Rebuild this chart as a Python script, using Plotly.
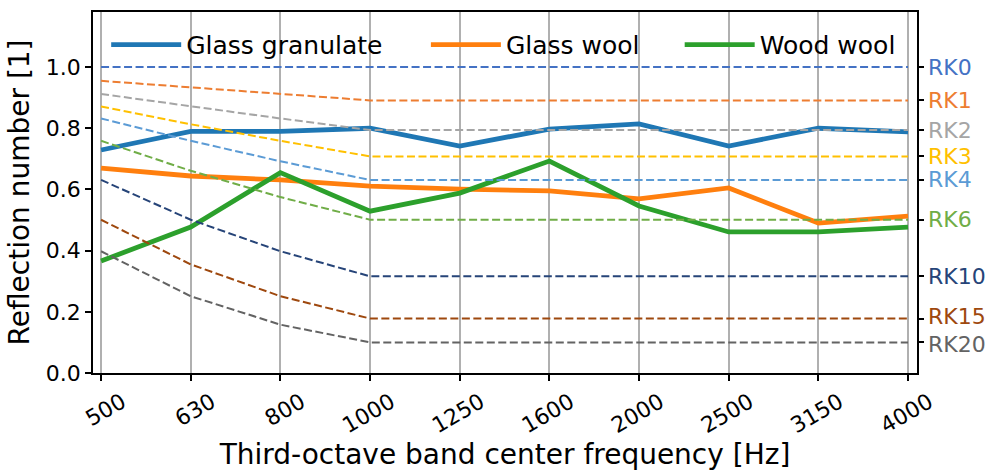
import plotly.graph_objects as go

freqs = ["500", "630", "800", "1000", "1250", "1600", "2000", "2500", "3150", "4000"]

glass_granulate = [0.729, 0.790, 0.790, 0.800, 0.742, 0.797, 0.814, 0.742, 0.800, 0.788]
glass_wool = [0.670, 0.644, 0.631, 0.611, 0.601, 0.595, 0.569, 0.605, 0.490, 0.513]
wood_wool = [0.366, 0.477, 0.655, 0.529, 0.588, 0.693, 0.546, 0.461, 0.461, 0.477]

rk0 = [1.000, 1.000, 1.000, 1.000, 1.000, 1.000, 1.000, 1.000, 1.000, 1.000]
rk1 = [0.955, 0.933, 0.912, 0.891, 0.891, 0.891, 0.891, 0.891, 0.891, 0.891]
rk2 = [0.912, 0.871, 0.832, 0.794, 0.794, 0.794, 0.794, 0.794, 0.794, 0.794]
rk3 = [0.871, 0.813, 0.759, 0.708, 0.708, 0.708, 0.708, 0.708, 0.708, 0.708]
rk4 = [0.832, 0.759, 0.692, 0.631, 0.631, 0.631, 0.631, 0.631, 0.631, 0.631]
rk6 = [0.759, 0.661, 0.575, 0.501, 0.501, 0.501, 0.501, 0.501, 0.501, 0.501]
rk10 = [0.631, 0.501, 0.398, 0.316, 0.316, 0.316, 0.316, 0.316, 0.316, 0.316]
rk15 = [0.501, 0.355, 0.251, 0.178, 0.178, 0.178, 0.178, 0.178, 0.178, 0.178]
rk20 = [0.398, 0.251, 0.158, 0.100, 0.100, 0.100, 0.100, 0.100, 0.100, 0.100]

rk_labels = ["RK0", "RK1", "RK2", "RK3", "RK4", "RK6", "RK10", "RK15", "RK20"]
rk_series = [rk0, rk1, rk2, rk3, rk4, rk6, rk10, rk15, rk20]
rk_colors = ["#4472C4", "#ED7D31", "#A5A5A5", "#FFC000", "#5B9BD5",
             "#70AD47", "#264478", "#9E480E", "#636363"]
rk_label_nudge = [0, 0, 0, 0, 0, 0, 0, 2, -2]

series_names = ["Glass granulate", "Glass wool", "Wood wool"]
series_values = [glass_granulate, glass_wool, wood_wool]
series_colors = ["#1f77b4", "#ff7f0e", "#2ca02c"]
legend_ids = ["legend", "legend2", "legend3"]
legend_x = [0.016, 0.404, 0.712]

FONT = "DejaVu Sans"
YMAX = 1.18

fig = go.Figure()

for name, vals, col, lid in zip(series_names, series_values, series_colors, legend_ids):
    fig.add_trace(go.Scatter(x=freqs, y=vals, mode="lines", name=name,
                             legend=lid, line=dict(color=col, width=4.8)))

for lab, vals, col in zip(rk_labels, rk_series, rk_colors):
    fig.add_trace(go.Scatter(x=freqs, y=vals, mode="lines", name=lab,
                             showlegend=False, yaxis="y2",
                             line=dict(color=col, width=2, dash="8px,3.5px")))

annotations = []
for lab, vals, col, nud in zip(rk_labels, rk_series, rk_colors, rk_label_nudge):
    annotations.append(dict(x=1, xref="paper", y=vals[-1], yref="y",
                            text=lab, showarrow=False, xanchor="left",
                            yanchor="middle", xshift=9, yshift=nud,
                            font=dict(family=FONT, size=22, color=col)))

legend_common = dict(orientation="h", xanchor="left", yanchor="middle", y=0.909,
                     bgcolor="rgba(0,0,0,0)", font=dict(family=FONT, size=25),
                     itemwidth=70)

fig.update_layout(
    width=995, height=473,
    margin=dict(l=93, r=78, t=12, b=100),
    plot_bgcolor="white", paper_bgcolor="white",
    font=dict(family=FONT, color="black"),
    showlegend=True,
    legend=dict(x=legend_x[0], **legend_common),
    legend2=dict(x=legend_x[1], **legend_common),
    legend3=dict(x=legend_x[2], **legend_common),
    xaxis=dict(type="category", range=[-0.09, 9.1], automargin=False,
               showgrid=True, gridcolor="#b0b0b0", gridwidth=1.5,
               showline=True, linecolor="black", linewidth=1.5, mirror=True,
               ticks="outside", ticklen=6, tickwidth=1.5, tickcolor="black",
               tickangle=-30, tickfont=dict(family=FONT, size=22),
               ticklabelshift=21,
               title=dict(text="Third-octave band center frequency [Hz]",
                          font=dict(family=FONT, size=28), standoff=6)),
    yaxis=dict(range=[0, YMAX], tickvals=[0, 0.2, 0.4, 0.6, 0.8, 1.0],
               ticktext=["0.0", "0.2", "0.4", "0.6", "0.8", "1.0"],
               automargin=False,
               showgrid=False, zeroline=False,
               showline=True, linecolor="black", linewidth=1.5, mirror=True,
               ticks="outside", ticklen=6, tickwidth=1.5, tickcolor="black",
               tickfont=dict(family=FONT, size=22),
               title=dict(text="Reflection number [1]",
                          font=dict(family=FONT, size=28), standoff=8)),
    yaxis2=dict(range=[0, YMAX], overlaying="y", side="right", automargin=False,
                tickvals=[v[-1] for v in rk_series], showticklabels=False,
                showgrid=False, zeroline=False, showline=False,
                ticks="outside", ticklen=6, tickwidth=1.5, tickcolor="black"),
    annotations=annotations,
)

fig.write_html("out.html")
